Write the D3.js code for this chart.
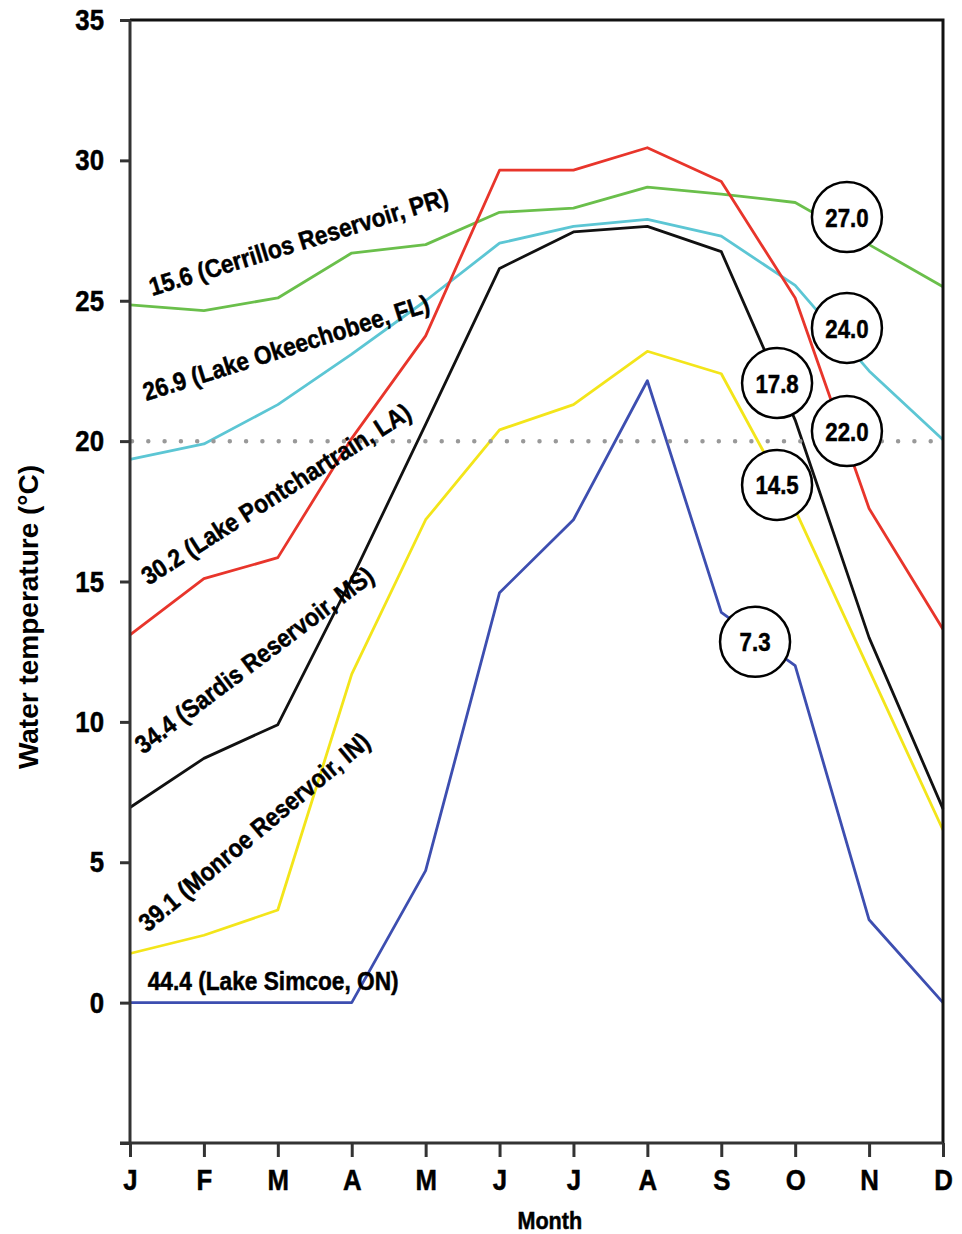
<!DOCTYPE html>
<html>
<head>
<meta charset="utf-8">
<script src="https://cdn.jsdelivr.net/npm/d3@7/dist/d3.min.js"></script>
<style>
  html, body { margin: 0; padding: 0; background: #fff; }
  svg { display: block; }
  .narrow { font-family: "Liberation Sans Narrow", "Arial Narrow", "Liberation Sans", Arial, sans-serif; font-weight: bold; }
  .heavy { stroke: #000; stroke-width: 0.5px; }
</style>
</head>
<body>
<svg id="chart" width="962" height="1234"></svg>
<script>
// ---- Data ----
const months = ["J","F","M","A","M","J","J","A","S","O","N","D"];
const yTicks = [-5, 0, 5, 10, 15, 20, 25, 30, 35];
const yTickLabels = ["", "0", "5", "10", "15", "20", "25", "30", "35"];

const cerrillos     = [24.85, 24.65, 25.1, 26.7, 27.0, 28.15, 28.3, 29.05, 28.8, 28.5, 27.0, 25.5];
const okeechobee    = [19.35, 19.9, 21.3, 23.1, 25.0, 27.05, 27.65, 27.9, 27.3, 25.55, 22.5, 20.05];
const pontchartrain = [13.1, 15.1, 15.85, 20.1, 23.75, 29.65, 29.65, 30.45, 29.25, 25.1, 17.6, 13.3];
const sardis        = [6.95, 8.7, 9.9, 15.1, 20.6, 26.15, 27.45, 27.65, 26.75, 20.75, 13.0, 6.9];
const monroe        = [1.75, 2.4, 3.3, 11.7, 17.2, 20.4, 21.3, 23.2, 22.4, 17.55, 11.85, 6.15];
const simcoe        = [0, 0, 0, 0, 4.7, 14.6, 17.2, 22.15, 13.9, 12.0, 2.95, 0];

const seriesNames = [
  "15.6 (Cerrillos Reservoir, PR)",
  "26.9 (Lake Okeechobee, FL)",
  "30.2 (Lake Pontchartrain, LA)",
  "34.4 (Sardis Reservoir, MS)",
  "39.1 (Monroe Reservoir, IN)",
  "44.4 (Lake Simcoe, ON)"
];
const seriesValues = [cerrillos, okeechobee, pontchartrain, sardis, monroe, simcoe];
const seriesColors = ["#6abf4b", "#5cc6d4", "#e8352b", "#111111", "#f3e51a", "#3d4eb0"];

// label anchors in data units (month index, temperature) and rotation
const labelX = [0.30, 0.22, 0.25, 0.18, 0.24, 0.24];
const labelY = [25.17, 21.43, 14.85, 8.83, 2.49, 0.46];
const labelAngle = [-17, -17.5, -32.5, -37, -40, 0];

// circled values (month index, temperature)
const circleText = ["27.0", "24.0", "17.8", "22.0", "14.5", "7.3"];
const circleX = [9.70, 9.70, 8.755, 9.70, 8.755, 8.457];
const circleY = [27.98, 24.03, 22.07, 20.36, 18.44, 12.85];

const referenceTemp = 20;

// ---- Layout ----
const svg = d3.select("#chart");
const mLeft = 130, mRight = 943, mTop = 20, mBottom = 1143;
const condense = 0.86; // horizontal squeeze to imitate a condensed bold face

const x = d3.scaleLinear().domain([0, 11]).range([mLeft, mRight]);
const y = d3.scaleLinear().domain([-5, 35]).range([mBottom, mTop]);

// lines
const line = d3.line().x((d, i) => x(i)).y(d => y(d));
svg.append("g").selectAll("path")
  .data(seriesValues)
  .join("path")
  .attr("d", d => line(d))
  .attr("fill", "none")
  .attr("stroke", (d, i) => seriesColors[i])
  .attr("stroke-width", 2.8)
  .attr("stroke-linejoin", "round");

// dotted reference line at 20
svg.append("line")
  .attr("x1", x(0) + 2).attr("x2", x(11))
  .attr("y1", y(referenceTemp)).attr("y2", y(referenceTemp))
  .attr("stroke", "#999")
  .attr("stroke-width", 4.5)
  .attr("stroke-linecap", "round")
  .attr("stroke-dasharray", "0 16.3");

// frame top/right
svg.append("path")
  .attr("d", `M${mLeft},${mTop}H${mRight}V${mBottom}`)
  .attr("fill", "none").attr("stroke", "#111").attr("stroke-width", 3);

// y axis
const yAxis = d3.axisLeft(y).tickValues(yTicks).tickSize(10).tickPadding(16)
  .tickFormat((d, i) => yTickLabels[i]);
const gy = svg.append("g").attr("transform", `translate(${mLeft},0)`).call(yAxis);
gy.select(".domain").attr("stroke", "#333").attr("stroke-width", 3).attr("d", `M0,${mTop}V${mBottom}`);
gy.selectAll(".tick line").attr("stroke", "#333").attr("stroke-width", 3);
gy.selectAll(".tick text").attr("class", "narrow heavy").attr("font-size", 30).attr("fill", "#000")
  .attr("x", -26 / condense).attr("transform", `scale(${condense},1)`);

// x axis
const xAxis = d3.axisBottom(x).tickValues(d3.range(12)).tickSize(14).tickPadding(12)
  .tickFormat(i => months[i]);
const gx = svg.append("g").attr("transform", `translate(0,${mBottom})`).call(xAxis);
gx.select(".domain").attr("stroke", "#333").attr("stroke-width", 3).attr("d", `M${mLeft - 10},0H${mRight}`);
gx.selectAll(".tick line").attr("stroke", "#333").attr("stroke-width", 3);
gx.selectAll(".tick text").attr("class", "narrow heavy").attr("font-size", 30).attr("fill", "#000")
  .attr("transform", `scale(${condense},1)`);

// axis titles
svg.append("text").attr("class", "narrow heavy")
  .attr("transform", `translate(${x(5.68)},1229) scale(0.9,1)`)
  .attr("text-anchor", "middle").attr("font-size", 24)
  .text("Month");

svg.append("text")
  .attr("transform", `translate(38,${617}) rotate(-90)`)
  .attr("text-anchor", "middle")
  .attr("font-family", "'Liberation Sans', Arial, sans-serif")
  .attr("font-weight", "bold")
  .attr("font-size", 28)
  .text("Water temperature (°C)");

// series labels
svg.append("g").selectAll("text")
  .data(seriesNames)
  .join("text")
  .attr("class", "narrow heavy")
  .attr("font-size", 25.5)
  .attr("transform", (d, i) => `translate(${x(labelX[i])},${y(labelY[i])}) rotate(${labelAngle[i]}) scale(0.89,1)`)
  .text(d => d);

// circled annotations
const cg = svg.append("g").selectAll("g")
  .data(circleText)
  .join("g")
  .attr("transform", (d, i) => `translate(${x(circleX[i])},${y(circleY[i])})`);
cg.append("circle").attr("r", 35).attr("fill", "#fff").attr("stroke", "#000").attr("stroke-width", 2.5);
cg.append("text").attr("class", "narrow heavy")
  .attr("text-anchor", "middle").attr("dy", "0.36em")
  .attr("font-size", 26.5)
  .attr("transform", "scale(0.84,1)")
  .text(d => d);
</script>
</body>
</html>
